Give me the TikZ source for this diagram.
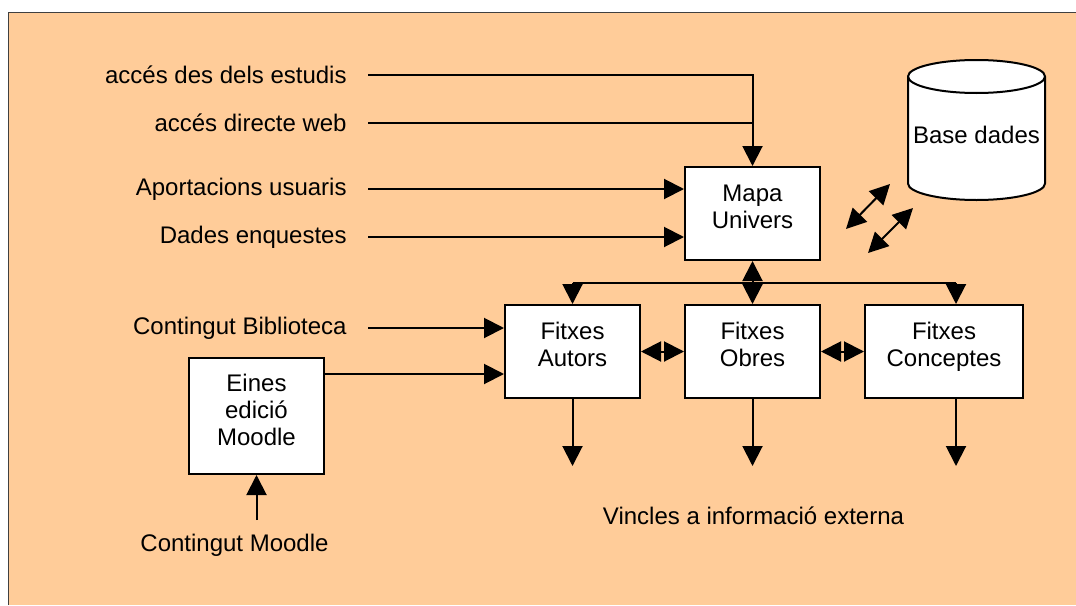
\documentclass[tikz,border=0pt]{standalone}
\usepackage{fontspec}
\setmainfont{Liberation Sans}
\definecolor{peach}{RGB}{255, 204, 153}
\definecolor{framegray}{RGB}{64, 64, 64}
\usetikzlibrary{arrows.meta}

\begin{document}
\begin{tikzpicture}[x=0.5pt, y=-0.5pt,
    every node/.style={font=\fontsize{12}{13.5}\selectfont},
    box/.style={draw, fill=white, line width=1pt, align=center, inner sep=0pt,
      minimum width=67.5pt, minimum height=46.5pt, text depth=7pt},
    inlabel/.style={anchor=east, inner xsep=10.5pt, inner ysep=0pt},
    link/.style={line width=1pt},
    arr/.style={link, -{Triangle[length=10pt, width=10pt]}},
    darr/.style={link, {Triangle[length=10pt, width=10pt]}-{Triangle[length=10pt, width=10pt]}}]
  \useasboundingbox (0,0) rectangle (1076,605);
  \fill[peach] (8,12) rectangle (1076,605);
  \draw[framegray, line width=0.5pt] (8,605) -- (8,12) -- (1076,12);

  \node[box] (mapa) at (752.5,213.5) {Mapa\\Univers};
  \node[box] (autors) at (572.5,351.5) {Fitxes\\Autors};
  \node[box] (obres) at (752.5,351.5) {Fitxes\\Obres};
  \node[box, minimum width=79pt] (conceptes) at (944,351.5) {Fitxes\\Conceptes};
  \node[box, minimum height=58pt, text depth=6pt] (eines) at (256.5,416) {Eines\\edició\\Moodle};

  \draw[link, fill=white] (908,76.5) -- (908,183.5)
    arc[start angle=180, end angle=360, x radius=34.25pt, y radius=8.25pt] -- (1045,76.5)
    arc[start angle=0, end angle=180, x radius=34.25pt, y radius=8.25pt] -- cycle;
  \draw[link] (908,76.5) arc[start angle=180, end angle=360, x radius=34.25pt, y radius=8.25pt];
  \node (db) at (976.5,135) {Base dades};

  \node[inlabel] (estudis) at (368,75) {accés des dels estudis};
  \node[inlabel] (web) at (368,123) {accés directe web};
  \node[inlabel] (usuaris) at (368,189) {Aportacions usuaris};
  \node[inlabel] (enquestes) at (368,237) {Dades enquestes};
  \node[inlabel] (biblio) at (368,328) {Contingut Biblioteca};
  \node (moodle) at (234.5,545) {Contingut Moodle};
  \node (vincles) at (753.5,516) {Vincles a informació externa};

  \draw[arr] (estudis.east) -| (mapa.north);
  \draw[link] (web.east) -- (web.east -| mapa.north);
  \draw[arr] (usuaris.east) -- (usuaris.east -| mapa.west);
  \draw[arr] (enquestes.east) -- (enquestes.east -| mapa.west);
  \draw[arr] (biblio.east) -- (biblio.east -| autors.west);
  \draw[arr] ([yshift=-8.5pt]eines.north east) coordinate (eout) -- (eout -| autors.west);
  \coordinate (moodin) at (256.5,520);
  \draw[arr] (moodin) -- (eines.south);

  \coordinate (bus) at (752.5,283);
  \coordinate (busR) at (956,283);
  \draw[darr] (mapa.south) -- (obres.north);
  \draw[link] (autors.north |- bus) -- (busR);
  \draw[arr] (autors.north |- bus) -- (autors.north);
  \draw[arr] (busR) -- (busR |- conceptes.north);

  \draw[darr] (autors.east) -- (obres.west);
  \draw[darr] (obres.east) -- (conceptes.west);

  \coordinate (d1a) at (846,229);
  \coordinate (d1b) at (890,184);
  \coordinate (d2a) at (868,253);
  \coordinate (d2b) at (913,208);
  \draw[darr] (d1a) -- (d1b);
  \draw[darr] (d2a) -- (d2b);

  \foreach \n/\x in {autors/572.5, obres/752.5, conceptes/956}{
    \coordinate (out-\n) at (\x,466);
    \draw[arr] (\n.south -| out-\n) -- (out-\n);
  }
\end{tikzpicture}
\end{document}
